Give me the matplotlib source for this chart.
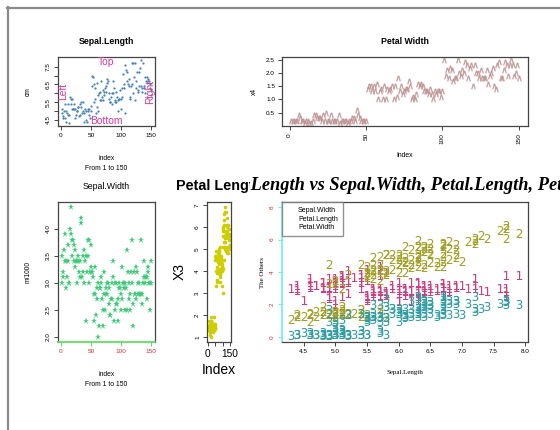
import matplotlib
matplotlib.use('Agg')
import matplotlib.pyplot as plt
import numpy as np
from matplotlib.lines import Line2D
from matplotlib.transforms import Bbox

plt.rcParams['font.family'] = ['Liberation Sans', 'DejaVu Sans']

# iris data
sepal_length = [5.1, 4.9, 4.7, 4.6, 5.0, 5.4, 4.6, 5.0, 4.4, 4.9,
                5.4, 4.8, 4.8, 4.3, 5.8, 5.7, 5.4, 5.1, 5.7, 5.1,
                5.4, 5.1, 4.6, 5.1, 4.8, 5.0, 5.0, 5.2, 5.2, 4.7,
                4.8, 5.4, 5.2, 5.5, 4.9, 5.0, 5.5, 4.9, 4.4, 5.1,
                5.0, 4.5, 4.4, 5.0, 5.1, 4.8, 5.1, 4.6, 5.3, 5.0,
                7.0, 6.4, 6.9, 5.5, 6.5, 5.7, 6.3, 4.9, 6.6, 5.2,
                5.0, 5.9, 6.0, 6.1, 5.6, 6.7, 5.6, 5.8, 6.2, 5.6,
                5.9, 6.1, 6.3, 6.1, 6.4, 6.6, 6.8, 6.7, 6.0, 5.7,
                5.5, 5.5, 5.8, 6.0, 5.4, 6.0, 6.7, 6.3, 5.6, 5.5,
                5.5, 6.1, 5.8, 5.0, 5.6, 5.7, 5.7, 6.2, 5.1, 5.7,
                6.3, 5.8, 7.1, 6.3, 6.5, 7.6, 4.9, 7.3, 6.7, 7.2,
                6.5, 6.4, 6.8, 5.7, 5.8, 6.4, 6.5, 7.7, 7.7, 6.0,
                6.9, 5.6, 7.7, 6.3, 6.7, 7.2, 6.2, 6.1, 6.4, 7.2,
                7.4, 7.9, 6.4, 6.3, 6.1, 7.7, 6.3, 6.4, 6.0, 6.9,
                6.7, 6.9, 5.8, 6.8, 6.7, 6.7, 6.3, 6.5, 6.2, 5.9]
sepal_width = [3.5, 3.0, 3.2, 3.1, 3.6, 3.9, 3.4, 3.4, 2.9, 3.1,
               3.7, 3.4, 3.0, 3.0, 4.0, 4.4, 3.9, 3.5, 3.8, 3.8,
               3.4, 3.7, 3.6, 3.3, 3.4, 3.0, 3.4, 3.5, 3.4, 3.2,
               3.1, 3.4, 4.1, 4.2, 3.1, 3.2, 3.5, 3.6, 3.0, 3.4,
               3.5, 2.3, 3.2, 3.5, 3.8, 3.0, 3.8, 3.2, 3.7, 3.3,
               3.2, 3.2, 3.1, 2.3, 2.8, 2.8, 3.3, 2.4, 2.9, 2.7,
               2.0, 3.0, 2.2, 2.9, 2.9, 3.1, 3.0, 2.7, 2.2, 2.5,
               3.2, 2.8, 2.5, 2.8, 2.9, 3.0, 2.8, 3.0, 2.9, 2.6,
               2.4, 2.4, 2.7, 2.7, 3.0, 3.4, 3.1, 2.3, 3.0, 2.5,
               2.6, 3.0, 2.6, 2.3, 2.7, 3.0, 2.9, 2.9, 2.5, 2.8,
               3.3, 2.7, 3.0, 2.9, 3.0, 3.0, 2.5, 2.9, 2.5, 3.6,
               3.2, 2.7, 3.0, 2.5, 2.8, 3.2, 3.0, 3.8, 2.6, 2.2,
               3.2, 2.8, 2.8, 2.7, 3.3, 3.2, 2.8, 3.0, 2.8, 3.0,
               2.8, 3.8, 2.8, 2.8, 2.6, 3.0, 3.4, 3.1, 3.0, 3.1,
               3.1, 3.1, 2.7, 3.2, 3.3, 3.0, 2.5, 3.0, 3.4, 3.0]
petal_length = [1.4, 1.4, 1.3, 1.5, 1.4, 1.7, 1.4, 1.5, 1.4, 1.5,
                1.5, 1.6, 1.4, 1.1, 1.2, 1.5, 1.3, 1.4, 1.7, 1.5,
                1.7, 1.5, 1.0, 1.7, 1.9, 1.6, 1.6, 1.5, 1.4, 1.6,
                1.6, 1.5, 1.5, 1.4, 1.5, 1.2, 1.3, 1.4, 1.3, 1.5,
                1.3, 1.3, 1.3, 1.6, 1.9, 1.4, 1.6, 1.4, 1.5, 1.4,
                4.7, 4.5, 4.9, 4.0, 4.6, 4.5, 4.7, 3.3, 4.6, 3.9,
                3.5, 4.2, 4.0, 4.7, 3.6, 4.4, 4.5, 4.1, 4.5, 3.9,
                4.8, 4.0, 4.9, 4.7, 4.3, 4.4, 4.8, 5.0, 4.5, 3.5,
                3.8, 3.7, 3.9, 5.1, 4.5, 4.5, 4.7, 4.4, 4.1, 4.0,
                4.4, 4.6, 4.0, 3.3, 4.2, 4.2, 4.2, 4.3, 3.0, 4.1,
                6.0, 5.1, 5.9, 5.6, 5.8, 6.6, 4.5, 6.3, 5.8, 6.1,
                5.1, 5.3, 5.5, 5.0, 5.1, 5.3, 5.5, 6.7, 6.9, 5.0,
                5.7, 4.9, 6.7, 4.9, 5.7, 6.0, 4.8, 4.9, 5.6, 5.8,
                6.1, 6.4, 5.6, 5.1, 5.6, 6.1, 5.6, 5.5, 4.8, 5.4,
                5.6, 5.1, 5.1, 5.9, 5.7, 5.2, 5.0, 5.2, 5.4, 5.1]
petal_width = [0.2, 0.2, 0.2, 0.2, 0.2, 0.4, 0.3, 0.2, 0.2, 0.1,
               0.2, 0.2, 0.1, 0.1, 0.2, 0.4, 0.4, 0.3, 0.3, 0.3,
               0.2, 0.4, 0.2, 0.5, 0.2, 0.2, 0.4, 0.2, 0.2, 0.2,
               0.2, 0.4, 0.1, 0.2, 0.2, 0.2, 0.2, 0.1, 0.2, 0.2,
               0.3, 0.3, 0.2, 0.6, 0.4, 0.3, 0.2, 0.2, 0.2, 0.2,
               1.4, 1.5, 1.5, 1.3, 1.5, 1.3, 1.6, 1.0, 1.3, 1.4,
               1.0, 1.5, 1.0, 1.4, 1.3, 1.4, 1.5, 1.0, 1.5, 1.1,
               1.8, 1.3, 1.5, 1.2, 1.3, 1.4, 1.4, 1.7, 1.5, 1.0,
               1.1, 1.0, 1.2, 1.6, 1.5, 1.6, 1.5, 1.3, 1.3, 1.3,
               1.2, 1.4, 1.2, 1.0, 1.3, 1.2, 1.3, 1.3, 1.1, 1.3,
               2.5, 1.9, 2.1, 1.8, 2.2, 2.1, 1.7, 1.8, 1.8, 2.5,
               2.0, 1.9, 2.1, 2.0, 2.4, 2.3, 1.8, 2.2, 2.3, 1.5,
               2.3, 2.0, 2.0, 1.8, 2.1, 1.8, 1.8, 1.8, 2.1, 1.6,
               1.9, 2.0, 2.2, 1.5, 1.4, 2.3, 2.4, 1.8, 1.8, 2.1,
               2.4, 2.3, 1.9, 2.3, 2.5, 2.3, 1.9, 2.0, 2.3, 1.8]
index = np.arange(1, 151)

W, H = 560, 430
fig = plt.figure(figsize=(W / 100, H / 100), dpi=100)
fig.patch.set_facecolor('white')


def box(l, t, r, b):
    # pixel box -> figure fraction
    return [l / W, 1 - b / H, (r - l) / W, (b - t) / H]


def rstyle(ax, size=4.6):
    for s in ax.spines.values():
        s.set_color('#444444')
        s.set_linewidth(0.9)
    ax.tick_params(direction='out', length=3, width=0.7, color='#444444',
                   labelsize=size, pad=2)
    ax.margins(0.04)


# frame of the screenshot
fig.add_artist(Line2D([7 / W, 1], [1 - 7.5 / H, 1 - 7.5 / H], color='#8a8a8a', lw=1.6))
fig.add_artist(Line2D([7.5 / W, 7.5 / W], [0, 1 - 7 / H], color='#8a8a8a', lw=1.6))

# --- Sepal.Length
ax1 = fig.add_axes(box(58, 57, 155, 126))
rstyle(ax1)
ax1.plot(index, sepal_length, 'o', ms=1.6, color='#4682B4', mew=0)
ax1.set_xticks([0, 50, 100, 150])
ax1.set_yticks([4.5, 5.0, 5.5, 6.0, 6.5, 7.0, 7.5])
ax1.set_yticklabels(['4.5', '', '5.5', '', '6.5', '', '7.5'], rotation=90, va='center')
ax1.set_title('Sepal.Length', fontsize=6.3, fontweight='bold', pad=9)
ax1.set_ylabel('cm', fontsize=4.8)
ax1.yaxis.set_label_coords(-0.27, 0.5)
ax1.set_xlabel('index\nFrom 1 to 150', fontsize=4.9, linespacing=1.6)
ax1.xaxis.set_label_coords(0.5, -0.42)
pink = '#D8399C'
ax1.text(0.5, 1.0, 'Top', transform=ax1.transAxes, ha='center', va='top', fontsize=7.4, color=pink)
ax1.text(0.5, 0.0, 'Bottom', transform=ax1.transAxes, ha='center', va='bottom', fontsize=7.4, color=pink)
ax1.text(0.0, 0.5, 'Left', transform=ax1.transAxes, ha='left', va='center', rotation=90, fontsize=7.4, color=pink)
ax1.text(1.0, 0.5, 'Right', transform=ax1.transAxes, ha='right', va='center', rotation=90, fontsize=7.4, color=pink)

# --- Petal Width
ax2 = fig.add_axes(box(282, 57, 528, 126))
rstyle(ax2)
ax2.plot(index, petal_width, linestyle='none', marker='$\\wedge$', ms=3.8, color='#C09494', mew=0.2)
ax2.set_xticks([0, 50, 100, 150])
ax2.set_xticklabels(['0', '50', '100', '150'], rotation=90)
ax2.set_yticks([0.5, 1.0, 1.5, 2.0, 2.5])
ax2.set_title('Petal Width', fontsize=6.3, fontweight='bold', pad=9)
ax2.set_ylabel('x4', fontsize=4.8)
ax2.yaxis.set_label_coords(-0.098, 0.5)
ax2.set_xlabel('Index', fontsize=4.9)
ax2.xaxis.set_label_coords(0.5, -0.38)

# --- Sepal.Width
ax3 = fig.add_axes(box(58, 202, 155, 342))
rstyle(ax3)
ax3.plot(index, sepal_width, linestyle='none', marker='*', ms=4.5, color='#3DCB78', mew=0)
ax3.spines['bottom'].set_color('#55DD55')
ax3.spines['bottom'].set_linewidth(1.2)
ax3.set_xticks([0, 50, 100, 150])
ax3.tick_params(axis='x', colors='#55DD55', labelcolor='#CD3333')
ax3.set_yticks([2.0, 2.5, 3.0, 3.5, 4.0])
ax3.set_yticklabels(['2.0', '2.5', '3.0', '3.5', '4.0'], rotation=90, va='center')
ax3.set_title('Sepal.Width', fontsize=6.3, fontweight='normal', pad=9)
ax3.set_ylabel('m/1000', fontsize=4.8)
ax3.yaxis.set_label_coords(-0.27, 0.5)
ax3.set_xlabel('index\nFrom 1 to 150', fontsize=4.9, linespacing=1.6)
ax3.xaxis.set_label_coords(0.5, -0.21)

# --- Petal Length (narrow)
ax4 = fig.add_axes(box(207, 202, 231, 342))
rstyle(ax4)
ax4.plot(index, petal_length, 'o', ms=2.6, color='#CDCD00', mew=0)
ax4.set_xticks([0, 50, 100, 150])
ax4.set_xticklabels(['0', '', '', '150'], fontsize=7.3)
ax4.set_yticks([1, 2, 3, 4, 5, 6, 7])
ax4.set_yticklabels(['1', '2', '3', '4', '5', '6', '7'], rotation=90, va='center')
ax4.set_ylabel('X3', fontsize=10)
ax4.yaxis.set_label_coords(-0.85, 0.5)
ax4.set_xlabel('Index', fontsize=10)
ax4.xaxis.set_label_coords(0.5, -0.15)
t4 = fig.text(219 / W, 1 - 186 / H, 'Petal Length', ha='center', va='center',
              fontsize=10.4, fontweight='bold')
t4.set_clip_box(Bbox.from_extents(0, 0, 250, H))
t4.set_clip_on(True)

# --- Sepal.Length vs the others
ax5 = fig.add_axes(box(282, 202, 528, 342))
rstyle(ax5)
cyan = '#70ECEC'
ax5.spines['left'].set_color(cyan)
ax5.spines['left'].set_linewidth(1.2)
ax5.plot(sepal_length, sepal_width, linestyle='none', marker='$1$', ms=6.5, color='#C8407F', mew=0)
ax5.plot(sepal_length, petal_length, linestyle='none', marker='$2$', ms=6.5, color='#A3A028', mew=0)
ax5.plot(sepal_length, petal_width, linestyle='none', marker='$3$', ms=6.5, color='#2E9DA5', mew=0)
ax5.set_ylim(-0.32, 8.32)
ax5.set_xticks([4.5, 5.0, 5.5, 6.0, 6.5, 7.0, 7.5, 8.0])
ax5.set_yticks([0, 2, 4, 6, 8])
ax5.set_yticklabels(['0', '2', '4', '6', '8'], rotation=90, va='center')
ax5.tick_params(axis='y', colors=cyan, labelcolor='#CD3333')
ax5.set_ylabel('The Others', fontsize=5, family='Liberation Serif')
ax5.yaxis.set_label_coords(-0.069, 0.5)
ax5.set_xlabel('Sepal.Length', fontsize=5, family='Liberation Serif')
ax5.xaxis.set_label_coords(0.5, -0.2)
leg = ax5.legend(handles=[Line2D([], [], linestyle='none')] * 3,
                 labels=['Sepal.Width', 'Petal.Length', 'Petal.Width'],
                 loc='upper left', bbox_to_anchor=(0, 1), borderaxespad=0,
                 fontsize=5, fancybox=False, handlelength=1.2, handletextpad=0.4,
                 labelspacing=0.25, borderpad=0.7)
leg.get_frame().set_edgecolor('#777777')
leg.get_frame().set_linewidth(1.0)

# long title: only the part right of x=250 px shows, "Length" starts there
title5 = 'Sepal.Length vs Sepal.Width, Petal.Length, Petal.Width'
tkw = dict(fontsize=13.2, fontweight='bold', style='italic', family='Liberation Serif')
renderer = fig.canvas.get_renderer()
probe = fig.text(0, 0, 'Sepal.', **tkw)
pre_w = probe.get_window_extent(renderer).width
probe.remove()
t5 = fig.text((250.5 - pre_w) / W, 1 - 186 / H, title5, ha='left', va='center', **tkw)
t5.set_clip_box(Bbox.from_extents(250, 0, W, H))
t5.set_clip_on(True)

fig.savefig('out.png', dpi=100)
